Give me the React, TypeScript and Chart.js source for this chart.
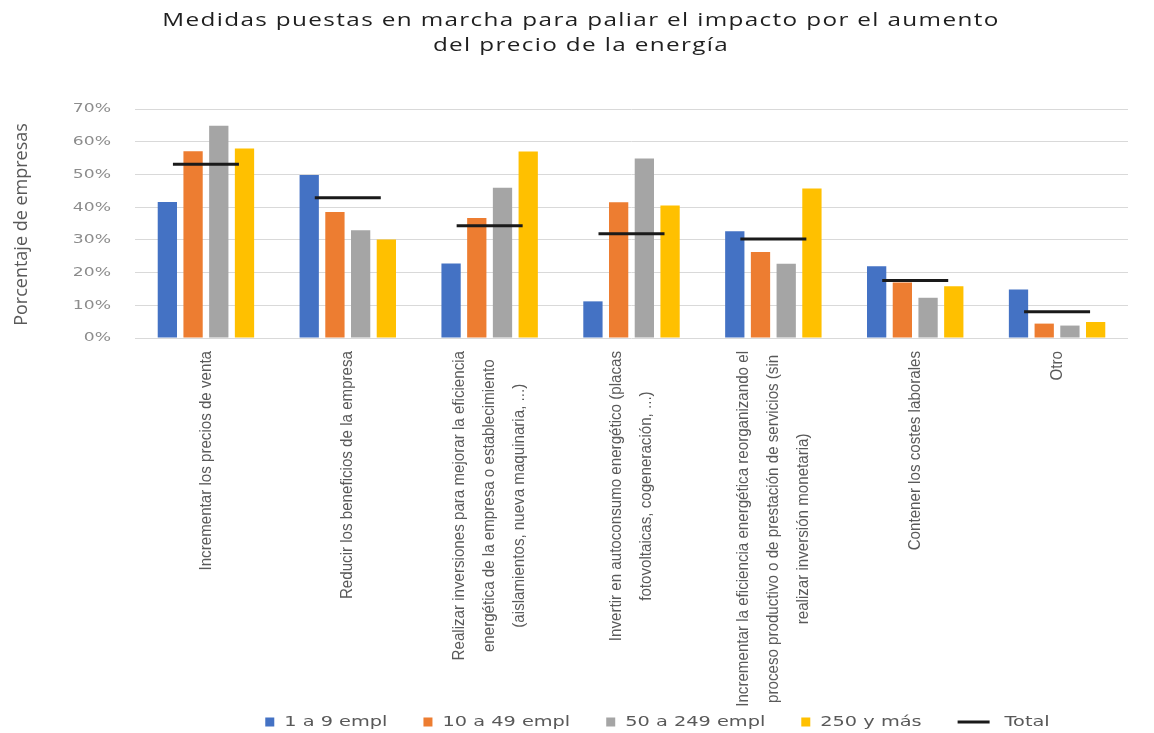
import React, { useEffect, useRef } from "react";
import { Chart, registerables } from "chart.js";

Chart.register(...registerables);

const titleLines = [
  "Medidas puestas en marcha para paliar el impacto por el aumento",
  "del precio de la energía",
];
const yAxisTitle = "Porcentaje de empresas";

const categories: string[][] = [
  ["Incrementar los precios de venta"],
  ["Reducir los beneficios de la empresa"],
  [
    "Realizar inversiones para mejorar la eficiencia",
    "energética de la empresa o establecimiento",
    "(aislamientos, nueva maquinaria, ...)",
  ],
  ["Invertir en autoconsumo energético (placas", "fotovoltaicas, cogeneración, ...)"],
  [
    "Incrementar la eficiencia energética reorganizando el",
    "proceso productivo o de prestación de servicios (sin",
    "realizar inversión monetaria)",
  ],
  ["Contener los costes laborales"],
  ["Otro"],
];

const seriesNames = ["1 a 9 empl", "10 a 49 empl", "50 a 249 empl", "250 y más", "Total"];
const seriesColors = ["#4472C4", "#ED7D31", "#A5A5A5", "#FFC000", "#1a1a1a"];

const empl1a9 = [41.6, 49.8, 22.8, 11.2, 32.6, 21.9, 14.8];
const empl10a49 = [57.1, 38.5, 36.7, 41.5, 26.3, 17.0, 4.4];
const empl50a249 = [64.9, 32.9, 45.9, 54.9, 22.7, 12.3, 3.8];
const empl250mas = [57.9, 30.1, 57.0, 40.5, 45.7, 15.8, 4.9];
const total = [53.1, 42.9, 34.3, 31.9, 30.3, 17.6, 8.0];

const yMin = 0;
const yMax = 70;
const yStep = 10;

function drawStretched(
  ctx: CanvasRenderingContext2D,
  text: string,
  x: number,
  y: number,
  font: string,
  color: string,
  align: "left" | "center" | "right",
  sx: number,
  spacing = 0
) {
  ctx.save();
  ctx.font = font;
  (ctx as any).letterSpacing = `${spacing}px`;
  ctx.fillStyle = color;
  ctx.textBaseline = "middle";
  ctx.textAlign = "left";
  const w = ctx.measureText(text).width * sx;
  const left = align === "center" ? x - w / 2 : align === "right" ? x - w : x;
  ctx.translate(left, y);
  ctx.scale(sx, 1);
  ctx.fillText(text, 0, 0);
  ctx.restore();
  return w;
}

function measureStretched(ctx: CanvasRenderingContext2D, text: string, font: string, sx: number) {
  ctx.save();
  ctx.font = font;
  const w = ctx.measureText(text).width * sx;
  ctx.restore();
  return w;
}

const textPlugin = {
  id: "customText",
  afterDraw(chart: any) {
    const ctx: CanvasRenderingContext2D = chart.ctx;
    const xScale = chart.scales.x;
    const yScale = chart.scales.y;

    // Title
    const titleFont = '18px "Open Sans"';
    drawStretched(ctx, titleLines[0], 581, 21, titleFont, "#1f1f1f", "center", 1.35, 1);
    drawStretched(ctx, titleLines[1], 581, 46, titleFont, "#1f1f1f", "center", 1.35, 1);

    // Y axis title
    ctx.save();
    ctx.font = '18px "Open Sans"';
    ctx.fillStyle = "#595959";
    ctx.textAlign = "center";
    ctx.textBaseline = "middle";
    ctx.translate(22, (chart.chartArea.top + chart.chartArea.bottom) / 2 + 1);
    ctx.rotate(-Math.PI / 2);
    ctx.fillText(yAxisTitle, 0, 0);
    ctx.restore();

    // Y tick labels
    yScale.ticks.forEach((t: any) => {
      const y = yScale.getPixelForValue(t.value);
      drawStretched(ctx, `${t.value}%`, 111, y, '13px "DejaVu Sans"', "#8c8c8c", "right", 1.32);
    });

    // X labels (rotated, lines centred on each other)
    const xFont = '17px "Liberation Sans"';
    const squeeze = 0.89;
    const lineGap = 30;
    const top = chart.chartArea.bottom + 13;
    categories.forEach((lines, i) => {
      const x = xScale.getPixelForValue(i);
      ctx.save();
      ctx.font = xFont;
      const maxW = Math.max(...lines.map((l) => ctx.measureText(l).width)) * squeeze;
      ctx.restore();
      const cy = top + maxW / 2;
      lines.forEach((line, j) => {
        const lx = x + (j - (lines.length - 1) / 2) * lineGap;
        ctx.save();
        ctx.font = xFont;
        ctx.fillStyle = "#595959";
        ctx.textAlign = "center";
        ctx.textBaseline = "middle";
        ctx.translate(lx, cy);
        ctx.rotate(-Math.PI / 2);
        ctx.scale(squeeze, 1);
        ctx.fillText(line, 0, 0);
        ctx.restore();
      });
    });

    // Legend
    const legFont = '14px "DejaVu Sans"';
    const legSX = 1.38;
    const legY = 722;
    const box = 9;
    const lineLen = 32;
    const gapMarker = 10;
    const gapLine = 15;
    const gapItem = 36;
    const widths = chart.data.datasets.map((ds: any) => {
      const isLine = ds.type === "line";
      const marker = isLine ? lineLen + gapLine : box + gapMarker;
      return marker + measureStretched(ctx, ds.label, legFont, legSX);
    });
    const totalW = widths.reduce((a: number, b: number) => a + b, 0) + gapItem * (widths.length - 1);
    let cx = 657.5 - totalW / 2;
    chart.data.datasets.forEach((ds: any, i: number) => {
      ctx.save();
      if (ds.type === "line") {
        ctx.strokeStyle = ds.borderColor;
        ctx.lineWidth = 3;
        ctx.beginPath();
        ctx.moveTo(cx, legY);
        ctx.lineTo(cx + lineLen, legY);
        ctx.stroke();
        ctx.restore();
        drawStretched(ctx, ds.label, cx + lineLen + gapLine, legY, legFont, "#595959", "left", legSX);
      } else {
        ctx.fillStyle = ds.backgroundColor;
        ctx.fillRect(cx, legY - box / 2, box, box);
        ctx.restore();
        drawStretched(ctx, ds.label, cx + box + gapMarker, legY, legFont, "#595959", "left", legSX);
      }
      cx += widths[i] + gapItem;
    });
  },
};

export default function App() {
  const canvasRef = useRef<HTMLCanvasElement | null>(null);

  useEffect(() => {
    document.body.style.margin = "0";
    const canvas = canvasRef.current;
    if (!canvas) return;
    const barSets = [empl1a9, empl10a49, empl50a249, empl250mas].map((data, i) => ({
      type: "bar" as const,
      label: seriesNames[i],
      data,
      backgroundColor: seriesColors[i],
      borderWidth: 0,
      categoryPercentage: 0.725,
      barPercentage: 0.75,
      order: 2,
    }));
    const chart = new Chart(canvas, {
      type: "bar",
      data: {
        labels: categories.map((c) => c.join(" ")),
        datasets: [
          ...barSets,
          {
            type: "line" as const,
            label: seriesNames[4],
            data: total,
            showLine: false,
            borderColor: seriesColors[4],
            backgroundColor: seriesColors[4],
            pointStyle: "line",
            pointRadius: 33,
            pointHoverRadius: 33,
            pointBorderWidth: 3,
            pointBorderColor: seriesColors[4],
            order: 0,
          } as any,
        ],
      },
      options: {
        responsive: false,
        animation: false,
        devicePixelRatio: 1,
        layout: { padding: { top: 109, bottom: 395, left: 0, right: 2 } },
        plugins: {
          legend: { display: false },
          title: { display: false },
          tooltip: { enabled: false },
        },
        scales: {
          x: {
            display: false,
            grid: { display: false },
          },
          y: {
            min: yMin,
            max: yMax,
            ticks: { stepSize: yStep, display: false },
            grid: { color: "#d9d9d9", lineWidth: 1, drawTicks: false },
            border: { display: false },
            afterFit: (scale: any) => {
              scale.width = 135;
            },
          },
        },
      },
      plugins: [textPlugin],
    });
    return () => chart.destroy();
  }, []);

  return (
    <div
      style={{
        position: "fixed",
        left: 0,
        top: 0,
        width: 1154,
        height: 733,
        overflow: "hidden",
        background: "#ffffff",
      }}
    >
      <canvas ref={canvasRef} width={1164} height={733} style={{ display: "block" }} />
    </div>
  );
}
